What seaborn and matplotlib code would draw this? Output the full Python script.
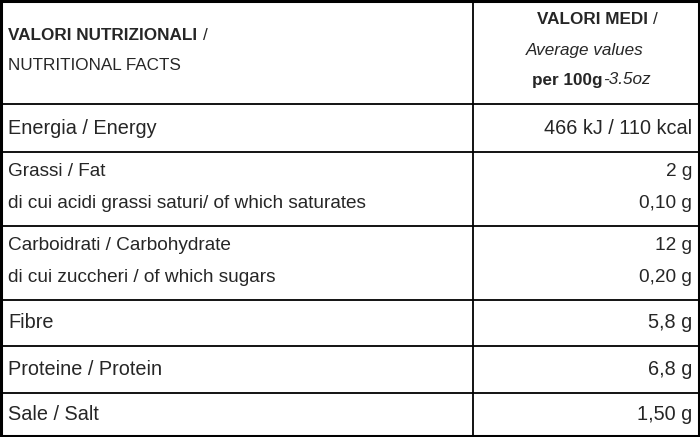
import matplotlib
matplotlib.use("Agg")
from matplotlib import pyplot as plt
import seaborn as sns

sns.set_theme(style="white")
plt.rcParams['font.family'] = ['Liberation Sans', 'DejaVu Sans']

# table content
row_labels = [
    ["Energia / Energy"],
    ["Grassi / Fat", "di cui acidi grassi saturi/ of which saturates"],
    ["Carboidrati / Carbohydrate", "di cui zuccheri / of which sugars"],
    ["Fibre"],
    ["Proteine / Protein"],
    ["Sale / Salt"],
]
row_values = [
    ["466 kJ / 110 kcal"],
    ["2 g", "0,10 g"],
    ["12 g", "0,20 g"],
    ["5,8 g"],
    ["6,8 g"],
    ["1,50 g"],
]
row_edges = [104, 152, 226, 300, 346, 393, 436]

fig = plt.figure(figsize=(7, 4.37), dpi=100)
ax = fig.add_axes([0, 0, 1, 1])
ax.set_xlim(0, 700)
ax.set_ylim(437, 0)
ax.axis("off")

lw = 1.3
# outer border and grid
ax.plot([1, 699, 699, 1, 1], [1, 1, 436, 436, 1], color="black", lw=2.2)
ax.plot([473, 473], [1, 436], color="black", lw=lw)
for y in row_edges[:-1]:
    ax.plot([1, 699], [y, y], color="black", lw=lw)

# header
hs = 12.3
t1 = ax.text(8, 36, "VALORI NUTRIZIONALI", fontsize=hs, fontweight="bold", va="center")
ax.annotate("/", xy=(1, 0.5), xycoords=t1, xytext=(4, 0), textcoords="offset points",
            fontsize=hs, va="center")
ax.text(8, 66, "NUTRITIONAL FACTS", fontsize=hs, va="center")
ax.text(648, 20, "VALORI MEDI", fontsize=hs, fontweight="bold", va="center", ha="right")
ax.text(653, 20, "/", fontsize=hs, va="center")
ax.text(585, 50, "Average values", fontsize=hs, style="italic", va="center", ha="center")
ax.text(603, 80, "per 100g", fontsize=hs, fontweight="bold", va="center", ha="right")
ax.text(603, 80, "-3.5oz", fontsize=hs, style="italic", va="center", ha="left")

# body
for i, (labels, vals) in enumerate(zip(row_labels, row_values)):
    top, bot = row_edges[i], row_edges[i + 1]
    if len(labels) == 1:
        ys = [(top + bot) / 2]
        sizes = [14.3]
    else:
        ys = [top + 19, top + 51]
        sizes = [13.7, 13.7]
    for lab, val, y, s in zip(labels, vals, ys, sizes):
        ax.text(8, y, lab, fontsize=s, va="center")
        ax.text(692, y, val, fontsize=s, va="center", ha="right")

fig.savefig("out.png", dpi=100, facecolor="white")
